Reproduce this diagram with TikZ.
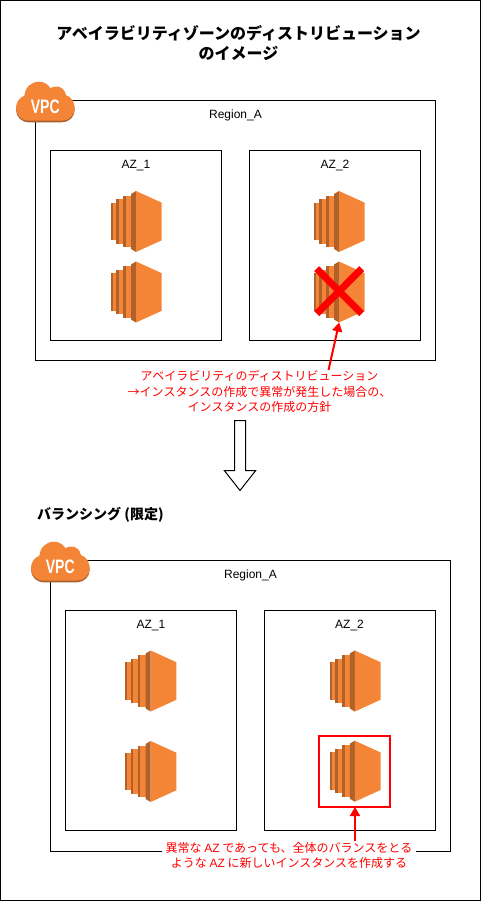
\documentclass[tikz,border=0pt]{standalone}
\usepackage{fontspec}
\setmainfont{Liberation Sans}
\newfontfamily\jp{Noto Sans CJK JP}
\usetikzlibrary{arrows.meta}
\definecolor{awso}{HTML}{F58536}
\definecolor{awsd}{HTML}{B0622A}
\definecolor{awss}{HTML}{A8602E}
\tikzset{
  x=1pt,y=-1pt,
  box/.style={draw=black,line width=1pt,fill=none,inner sep=0pt,outer sep=0pt,anchor=north west},
  lbl/.style={font=\fontsize{12}{15}\selectfont,inner sep=0pt,text=black},
  rednote/.style={font=\jp\fontsize{12}{15.4}\selectfont,text=red,align=center,inner sep=0pt},
  redline/.style={draw=red,line width=2pt,-{Triangle[length=9pt,width=10pt]}},
  ec2/.pic={
    \fill[awso] (0,11.7) rectangle (5.7,49.3);
    \fill[awsd] (0,11.7) rectangle (2,49.3);
    \fill[awso] (5.7,8.3) rectangle (12.3,52.7);
    \fill[awsd] (5.7,8.3) rectangle (8,52.7);
    \fill[awso] (12.3,4.7) rectangle (20.3,56.3);
    \fill[awsd] (12.3,4.7) rectangle (15,56.3);
    \fill[awsd] (20.3,3) -- (25.3,0) -- (25.3,61) -- (20.3,58) -- cycle;
    \fill[awso] (25.3,0) -- (51,11.7) -- (51,49.3) -- (25.3,61) -- cycle;
    \node[minimum width=51pt,minimum height=61pt,inner sep=0pt,outer sep=0pt,anchor=north west] (-box) at (0,0) {};
  },
}
\newcommand{\cloudshape}[1]{%
  \fill[#1] (12.8,39) .. controls (5.5,39) and (0,33.5) .. (0,26.5)
    .. controls (0,20) and (4,15.5) .. (8.5,14)
    .. controls (9,6) and (15,0) .. (23,0)
    .. controls (28,0) and (32,2.5) .. (34.5,6.5)
    .. controls (36,5.5) and (38,4.8) .. (40.5,4.8)
    .. controls (45,4.8) and (49,8) .. (50,13.5)
    .. controls (55,15) and (58.7,20) .. (58.7,26.5)
    .. controls (58.7,33.5) and (53,39) .. (46,39) -- cycle;}
\tikzset{vpcicon/.pic={
    \begin{scope}[yshift=-1.6pt]\cloudshape{awss}\end{scope}
    \cloudshape{awso}
    \node[inner sep=0pt,text=white,font=\bfseries\fontsize{19.5}{20}\selectfont] (-txt) at (29.3,24.7) {\scalebox{.72}[1]{VPC}};
}}
\begin{document}
\begin{tikzpicture}
\useasboundingbox (0,0) rectangle (481,901);
\draw[line width=1pt] (0.5,0.5) rectangle (480.5,900.3);
% title
\node[font=\jp\bfseries\fontsize{16}{20}\selectfont,align=center,inner sep=0pt] (title) at (238.5,43) {アベイラビリティゾーンのディストリビューション\\のイメージ};
% upper
\node[box,minimum width=400pt,minimum height=260pt] (regA) at (35.5,100.5) {};
\node[box,minimum width=171pt,minimum height=190pt] (az1) at (50.5,150.5) {};
\node[box,minimum width=171pt,minimum height=190pt] (az2) at (249.5,150.5) {};
\pic (vpcA) at (16,81.7) {vpcicon};
\node[lbl] (regAt) at (235.5,115.5) {Region\_A};
\node[lbl] (az1t) at (136,165.5) {AZ\_1};
\node[lbl] (az2t) at (335,165.5) {AZ\_2};
\pic (i1) at (110.7,191) {ec2};
\pic (i2) at (110.7,261.5) {ec2};
\pic (i3) at (313.7,191) {ec2};
\pic (i4) at (313.7,261.5) {ec2};
\draw[red,line width=7pt] (i4-box.center) ++(-22.5,-23.3) coordinate (xa) -- ++(45,45) coordinate (xb);
\draw[red,line width=7pt] (i4-box.center) ++(22.5,-23.3) coordinate (xc) -- ++(-45,45) coordinate (xd);
\node[rednote] (note1) at (259.5,391.5) {アベイラビリティのディストリビューション\\→インスタンスの作成で異常が発生した場合の、\\インスタンスの作成の方針};
\coordinate (n1s) at (328.5,370);
\draw[redline] (n1s) -- (i4-box.south);
% block arrow
\coordinate (bb) at (240,490.5);
\draw[line width=1pt,fill=white] (234.7,420.5) -- (245.7,420.5) -- (245.7,470.5) -- (255.7,470.5) -- (bb) -- (224.3,470.5) -- (234.7,470.5) -- cycle;
% lower
\node[font=\jp\bfseries\fontsize{14}{17}\selectfont,inner sep=0pt,anchor=west] (bal) at (37,515) {バランシング (限定)};
\node[box,minimum width=400pt,minimum height=291pt] (regB) at (50.5,560.5) {};
\node[box,minimum width=171pt,minimum height=220pt] (az3) at (65.5,610.5) {};
\node[box,minimum width=171pt,minimum height=220pt] (az4) at (264.5,610.5) {};
\pic (vpcB) at (31,541.7) {vpcicon};
\node[lbl] (regBt) at (250.5,575.5) {Region\_A};
\node[lbl] (az3t) at (151,625.5) {AZ\_1};
\node[lbl] (az4t) at (349.5,625.5) {AZ\_2};
\pic (i5) at (125.3,650.5) {ec2};
\pic (i6) at (125.3,741) {ec2};
\pic (i7) at (329.5,650.5) {ec2};
\pic (i8) at (329.5,740.7) {ec2};
\node[draw=red,line width=2pt,minimum width=71pt,minimum height=71pt,inner sep=0pt,outer sep=0pt,anchor=north west] (hl) at (319,736) {};
\node[rednote,fill=white,inner xsep=4pt,inner ysep=1pt] (note2) at (289,855.5) {異常な {\fontspec{Liberation Sans}AZ} であっても、全体のバランスをとる\\ような {\fontspec{Liberation Sans}AZ} に新しいインスタンスを作成する};
\coordinate (n2s) at (355,841);
\draw[redline] (n2s) -- (hl.south -| n2s);
\end{tikzpicture}
\end{document}
